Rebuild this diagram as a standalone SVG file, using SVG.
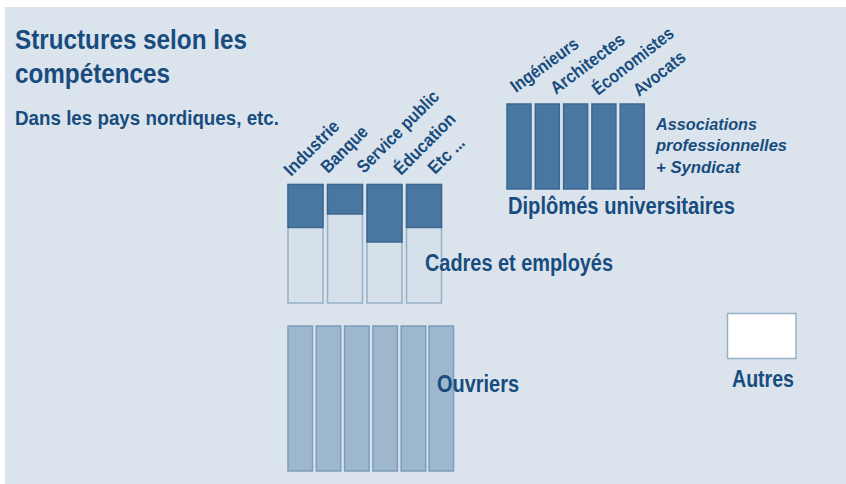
<svg xmlns="http://www.w3.org/2000/svg" width="846" height="484" viewBox="0 0 846 484">
<style>
text{font-family:"Liberation Sans",Arial,sans-serif;fill:#184c7f;font-weight:bold}
.lbl{font-size:18px}
.big{font-size:23px}
.dark{fill:#4a77a2;stroke:#3b6893;stroke-width:1.5}
.light{fill:#d5e0ea;stroke:#97b1c8;stroke-width:1.5}
.mid{fill:#9db7cd;stroke:#7c9dbb;stroke-width:1.5}
.white{fill:#ffffff;stroke:#97b1c8;stroke-width:1.5}
.it{font-size:17px;font-style:italic}
</style>
<rect x="0" y="0" width="846" height="484" fill="#ffffff"/>
<rect x="5" y="7" width="841" height="477" fill="#dbe4ec"/>
<g id="title">
<text x="15" y="49" font-size="27" textLength="232" lengthAdjust="spacingAndGlyphs">Structures selon les</text>
<text x="15" y="83" font-size="27" textLength="155" lengthAdjust="spacingAndGlyphs">compétences</text>
<text x="15" y="125" font-size="19.5" textLength="264" lengthAdjust="spacingAndGlyphs">Dans les pays nordiques, etc.</text>
</g>
<g id="cadres">
<rect class="light" x="288" y="184.5" width="35" height="118.5"/>
<rect class="dark" x="288" y="184.5" width="35" height="43"/>
<rect class="light" x="327.5" y="184.5" width="35" height="118.5"/>
<rect class="dark" x="327.5" y="184.5" width="35" height="29.5"/>
<rect class="light" x="367" y="184.5" width="35" height="118.5"/>
<rect class="dark" x="367" y="184.5" width="35" height="57.5"/>
<rect class="light" x="406.5" y="184.5" width="35" height="118.5"/>
<rect class="dark" x="406.5" y="184.5" width="35" height="43"/>
<text class="lbl" transform="translate(291,177) rotate(-45)" textLength="70" lengthAdjust="spacingAndGlyphs">Industrie</text>
<text class="lbl" transform="translate(328,174) rotate(-45)" textLength="58" lengthAdjust="spacingAndGlyphs">Banque</text>
<text class="lbl" transform="translate(364,174) rotate(-45)" textLength="108" lengthAdjust="spacingAndGlyphs">Service public</text>
<text class="lbl" transform="translate(401,176) rotate(-45)" textLength="79" lengthAdjust="spacingAndGlyphs">Éducation</text>
<text class="lbl" transform="translate(435,175) rotate(-45)" textLength="44" lengthAdjust="spacingAndGlyphs">Etc ...</text>
<text class="big" x="425" y="271" textLength="188" lengthAdjust="spacingAndGlyphs">Cadres et employés</text>
</g>
<g id="diplomes">
<rect class="dark" x="507" y="104" width="24" height="85"/>
<rect class="dark" x="535.3" y="104" width="24" height="85"/>
<rect class="dark" x="563.6" y="104" width="24" height="85"/>
<rect class="dark" x="591.9" y="104" width="24" height="85"/>
<rect class="dark" x="620.2" y="104" width="24" height="85"/>
<text class="lbl" transform="translate(516,93) rotate(-36)" textLength="79" lengthAdjust="spacingAndGlyphs">Ingénieurs</text>
<text class="lbl" transform="translate(556,95) rotate(-37)" textLength="88" lengthAdjust="spacingAndGlyphs">Architectes</text>
<text class="lbl" transform="translate(598,96) rotate(-38)" textLength="98" lengthAdjust="spacingAndGlyphs">Économistes</text>
<text class="lbl" transform="translate(639,97) rotate(-38)" textLength="61" lengthAdjust="spacingAndGlyphs">Avocats</text>
<text class="it" x="656" y="130" textLength="101" lengthAdjust="spacingAndGlyphs">Associations</text>
<text class="it" x="656" y="151" textLength="131" lengthAdjust="spacingAndGlyphs">professionnelles</text>
<text class="it" x="656" y="173" textLength="84" lengthAdjust="spacingAndGlyphs">+ Syndicat</text>
<text class="big" x="508" y="214" textLength="227" lengthAdjust="spacingAndGlyphs">Diplômés universitaires</text>
</g>
<g id="ouvriers">
<rect class="mid" x="288" y="326" width="24.5" height="145"/>
<rect class="mid" x="316.3" y="326" width="24.5" height="145"/>
<rect class="mid" x="344.6" y="326" width="24.5" height="145"/>
<rect class="mid" x="372.9" y="326" width="24.5" height="145"/>
<rect class="mid" x="401.2" y="326" width="24.5" height="145"/>
<rect class="mid" x="429" y="326" width="24.5" height="145"/>
<text class="big" x="437" y="391.5" textLength="82" lengthAdjust="spacingAndGlyphs">Ouvriers</text>
</g>
<g id="autres">
<rect class="white" x="727.5" y="313.5" width="68.5" height="45"/>
<text class="big" x="732" y="387" textLength="62" lengthAdjust="spacingAndGlyphs">Autres</text>
</g>
<g id="connectors"/>
</svg>
